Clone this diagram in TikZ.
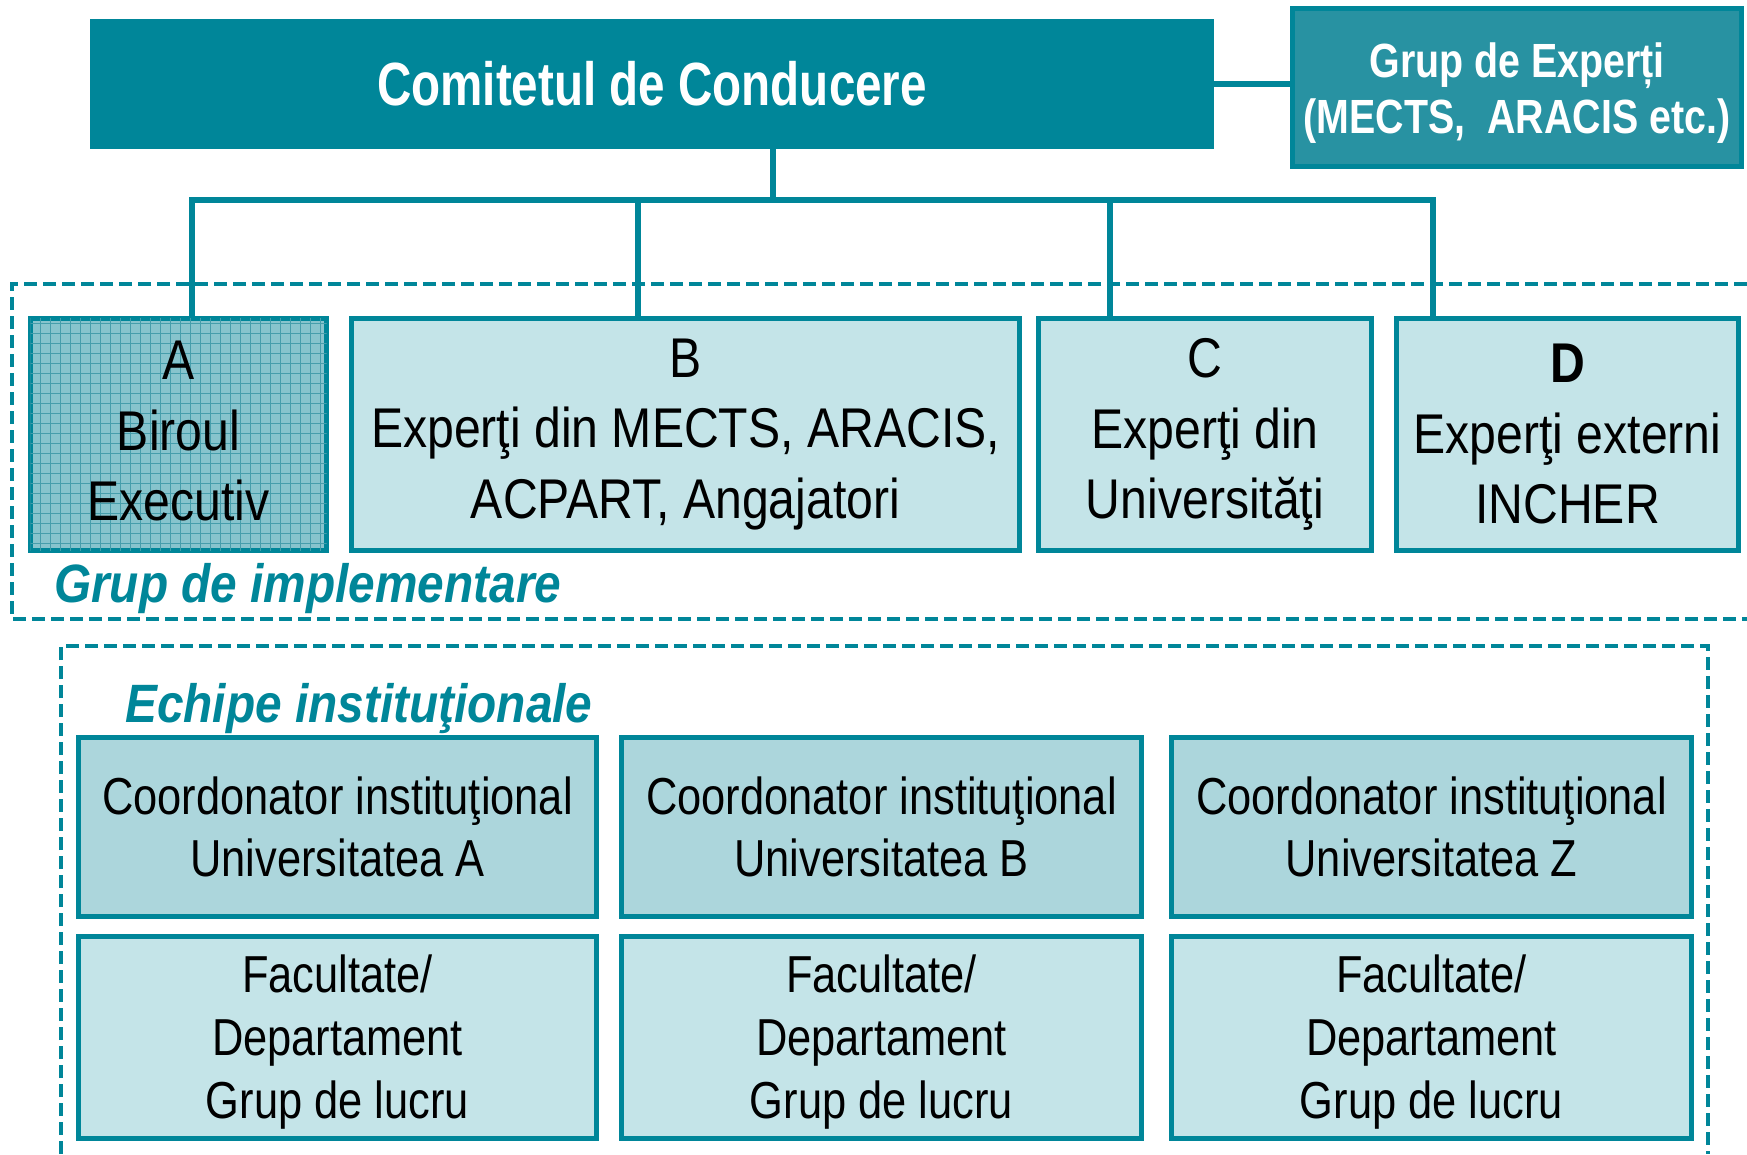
\documentclass[tikz,border=0pt]{standalone}
\usepackage{fontspec}
\usetikzlibrary{patterns.meta}
\setmainfont{Liberation Sans}
\newfontfamily\bodyfont[FakeStretch=0.86]{Liberation Sans}
\newfontfamily\lowfont[FakeStretch=0.835]{Liberation Sans}
\newfontfamily\headfont[FakeStretch=0.78]{Liberation Sans}
\newfontfamily\expfont[FakeStretch=0.82]{Liberation Sans}
\newfontfamily\labfont[FakeStretch=0.885]{Liberation Sans}
\definecolor{tealc}{RGB}{0,134,153}
\definecolor{afill}{RGB}{135,196,205}
\definecolor{agrid}{RGB}{70,158,172}
\definecolor{lfill}{RGB}{196,228,232}
\definecolor{cfill}{RGB}{172,214,220}
\definecolor{expfill}{RGB}{40,146,162}
\begin{document}
\begin{tikzpicture}[x=1pt,y=-1pt,
  box/.style={draw=tealc, line width=5pt, inner sep=0pt, align=center, text=black},
  toprow/.style={box, minimum height=232pt, font=\bodyfont\fontsize{56}{70.5}\selectfont},
  coordrow/.style={box, fill=cfill, minimum height=179pt, font=\lowfont\fontsize{52}{62}\selectfont},
  facrow/.style={box, fill=lfill, minimum height=202pt},
  factext/.style={inner sep=0pt, align=center, font=\lowfont\fontsize{52}{63}\selectfont},
  conn/.style={draw=tealc, line width=6.5pt, line join=miter},
  grp/.style={draw=tealc, line width=4pt, dash pattern=on 13pt off 6pt},
  grplabel/.style={anchor=base west, inner sep=0pt, text=tealc, font=\labfont\bfseries\itshape\fontsize{54}{60}\selectfont}]
\useasboundingbox (0,0) rectangle (1747,1154);

% dashed groups
\draw[grp] (1747,284) -- (12,284) -- (12,619) -- (1747,619);
\draw[grp] (61,1154) -- (61,646) -- (1708,646) -- (1708,1154);

% top
\node[fill=tealc, minimum width=1124pt, minimum height=130pt, inner sep=0pt, text=white,
  font=\headfont\bfseries\fontsize{61}{70}\selectfont] (com) at (652,84) {Comitetul de Conducere};
\node[box, fill=expfill, minimum width=449pt, minimum height=158pt] (exp) at (1517,87.5) {};
\node[inner sep=0pt, align=center, text=white, font=\expfont\bfseries\fontsize{48}{56}\selectfont]
  (expt) at ([yshift=-6pt]exp.center) {Grup de Experți\\(MECTS,~~ARACIS etc.)};

% row 1
\node[toprow, fill=afill, minimum width=296pt,
  postaction={pattern={Lines[angle=0,distance=10pt,line width=1pt]}, pattern color=agrid},
  postaction={pattern={Lines[angle=90,distance=10pt,line width=1pt]}, pattern color=agrid}]
  (A) at (178.5,434.5) {};
\node[inner sep=0pt, align=center, font=\bodyfont\fontsize{56}{70.5}\selectfont] (At) at ([yshift=3pt]A.center) {A\\Biroul\\Executiv};
\node[toprow, fill=lfill, minimum width=668pt] (B) at (685.5,434.5) {B\\Experţi din MECTS, ARACIS,\\ACPART, Angajatori};
\node[toprow, fill=lfill, minimum width=333pt] (C) at (1205,434.5) {C\\Experţi din\\Universităţi};
\node[toprow, fill=lfill, minimum width=342pt] (D) at (1567.5,434.5) {\textbf{D}\\Experţi externi\\INCHER};

\node[grplabel] (gi) at (54,602) {Grup de implementare};
\node[grplabel] (ei) at (125,722) {Echipe instituţionale};

% row 2
\node[coordrow, minimum width=518pt] (UA) at (337.5,827) {Coordonator instituţional\\Universitatea A};
\node[coordrow, minimum width=520pt] (UB) at (881.5,827) {Coordonator instituţional\\Universitatea B};
\node[coordrow, minimum width=520pt] (UZ) at (1431.5,827) {Coordonator instituţional\\Universitatea Z};

% row 3
\node[facrow, minimum width=518pt] (FA) at (337.5,1037.5) {};
\node[facrow, minimum width=520pt] (FB) at (881.5,1037.5) {};
\node[facrow, minimum width=520pt] (FZ) at (1431.5,1037.5) {};
\node[factext] (FAt) at ([yshift=-5pt]FA.center) {Facultate/\\Departament\\Grup de lucru};
\node[factext] (FBt) at ([yshift=-5pt]FB.center) {Facultate/\\Departament\\Grup de lucru};
\node[factext] (FZt) at ([yshift=-5pt]FZ.center) {Facultate/\\Departament\\Grup de lucru};

% connectors
\coordinate (jA) at (192,200);
\coordinate (jB) at (638,200);
\coordinate (jC) at (1110,200);
\coordinate (jD) at (1433,200);
\coordinate (jT) at (773,200);
\draw[conn] (com.east) -- (com.east -| exp.west);
\draw[conn] (jT |- com.south) -- (jT);
\draw[conn] (jA |- A.north) -- (jA) -- (jD) -- (jD |- D.north);
\draw[conn] (jB) -- (jB |- B.north);
\draw[conn] (jC) -- (jC |- C.north);
\end{tikzpicture}
\end{document}
